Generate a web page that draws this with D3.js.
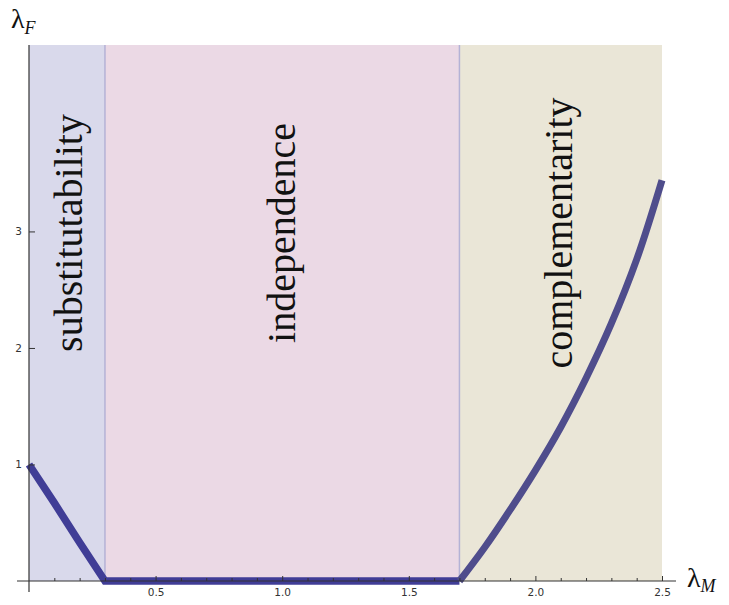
<!DOCTYPE html>
<html>
<head>
<meta charset="utf-8">
<script src="https://cdn.jsdelivr.net/npm/d3@7"></script>
<style>
  body { margin: 0; background: #fff; }
</style>
</head>
<body>
<div id="chart"></div>
<script>
// regions along lambda_M
const regionNames = ["substitutability", "independence", "complementarity"];
const regionBounds = [0, 0.3, 1.7, 2.5];

// boundary curve lambda_F(lambda_M)
const lambdaM = [0, 0.1, 0.2, 0.3, 0.5, 1.0, 1.5, 1.7, 1.8, 1.9, 2.0, 2.1, 2.2, 2.3, 2.4, 2.5];
const lambdaF = [1.0, 0.67, 0.33, 0, 0, 0, 0, 0, 0.29, 0.61, 0.95, 1.32, 1.74, 2.21, 2.76, 3.44];

const xTicks = [0.5, 1.0, 1.5, 2.0, 2.5];
const xMinor = [0.1, 0.2, 0.3, 0.4, 0.6, 0.7, 0.8, 0.9, 1.1, 1.2, 1.3, 1.4, 1.6, 1.7, 1.8, 1.9, 2.1, 2.2, 2.3, 2.4];
const yTicks = [1, 2, 3];

const fills = ["#d9d9eb", "#ebd9e5", "#eae6d7"];
const W = 729, H = 605;

const svg = d3.select("#chart").append("svg")
    .attr("width", W).attr("height", H);

const x = d3.scaleLinear().domain([0, 2.5]).range([29, 662]);
const y = d3.scaleLinear().domain([0, 4.6]).range([581, 45]);

// shaded regions
svg.selectAll("rect.region")
  .data(regionNames)
  .enter()
  .append("rect")
    .attr("class", "region")
    .attr("x", (d, i) => x(regionBounds[i]))
    .attr("y", y(4.6))
    .attr("width", (d, i) => x(regionBounds[i + 1]) - x(regionBounds[i]))
    .attr("height", y(0) - y(4.6))
    .style("fill", (d, i) => fills[i]);

// region borders
svg.selectAll("line.border")
  .data(regionBounds.slice(1, 3))
  .enter()
  .append("line")
    .attr("x1", d => x(d)).attr("x2", d => x(d))
    .attr("y1", y(4.6)).attr("y2", y(0))
    .attr("stroke", "#b4b2d6")
    .attr("stroke-width", 1.5);

// region labels
svg.selectAll("text.region")
  .data(regionNames)
  .enter()
  .append("text")
    .attr("transform", (d, i) => {
      const bx = [82, 295, 572][i];
      return `translate(${bx},233) rotate(-90)`;
    })
    .attr("text-anchor", "middle")
    .attr("font-family", "Liberation Serif, serif")
    .attr("font-size", "40px")
    .attr("fill", "#111")
    .text(d => d);

// curve
const pts = lambdaM.map((m, i) => [m, lambdaF[i]]);
const line = d3.line().x(d => x(d[0])).y(d => y(d[1]));

svg.append("path")
    .datum(pts.slice(0, 8))
    .attr("d", line)
    .attr("fill", "none")
    .attr("stroke", "#403d96")
    .attr("stroke-width", 7.5);

svg.append("path")
    .datum(pts.slice(7))
    .attr("d", line.curve(d3.curveCatmullRom))
    .attr("fill", "none")
    .attr("stroke", "#4f4d8c")
    .attr("stroke-width", 7);

// axes
svg.append("g")
    .attr("transform", `translate(0,${y(0)})`)
    .call(d3.axisBottom(x).tickValues(xTicks).tickSize(-5).tickPadding(8)
      .tickFormat(d3.format(".1f")));
svg.append("g")
    .attr("transform", `translate(0,${y(0)})`)
    .call(d3.axisBottom(x).tickValues(xMinor).tickSize(-3).tickFormat(""));

svg.append("g")
    .attr("transform", `translate(${x(0)},0)`)
    .call(d3.axisLeft(y).tickValues(yTicks).tickSize(-6).tickPadding(7)
      .tickFormat(d3.format("d")));

svg.selectAll(".domain").remove();
svg.selectAll(".tick line").attr("stroke", "#333");
svg.selectAll(".tick text")
    .attr("font-family", "DejaVu Sans, sans-serif")
    .attr("font-size", "10.5px")
    .attr("fill", "#333");

// axis lines (slightly overshooting like the original)
svg.append("line")
    .attr("x1", 17).attr("x2", 676)
    .attr("y1", y(0)).attr("y2", y(0))
    .attr("stroke", "#333").attr("stroke-width", 1.2);
svg.append("line")
    .attr("x1", x(0)).attr("x2", x(0))
    .attr("y1", y(4.6)).attr("y2", 592)
    .attr("stroke", "#333").attr("stroke-width", 1.2);

// axis titles
const lamF = svg.append("text")
    .attr("x", 11).attr("y", 28)
    .attr("font-family", "Liberation Serif, serif")
    .attr("font-size", "28px")
    .attr("fill", "#111");
lamF.append("tspan").text("λ");
lamF.append("tspan").attr("dy", 6).attr("font-size", "18px")
    .attr("font-style", "italic").text("F");

const lamM = svg.append("text")
    .attr("x", 687).attr("y", 587)
    .attr("font-family", "Liberation Serif, serif")
    .attr("font-size", "28px")
    .attr("fill", "#111");
lamM.append("tspan").text("λ");
lamM.append("tspan").attr("dy", 5).attr("font-size", "18px")
    .attr("font-style", "italic").text("M");
</script>
</body>
</html>
